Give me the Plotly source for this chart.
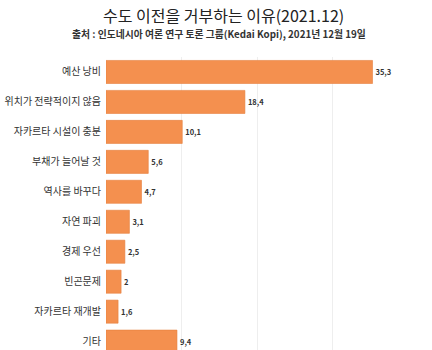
import plotly.graph_objects as go

categories = ["예산 낭비", "위치가 전략적이지 않음", "자카르타 시설이 충분", "부채가 늘어날 것",
              "역사를 바꾸다", "자연 파괴", "경제 우선", "빈곤문제", "자카르타 재개발", "기타"]
values = [35.3, 18.4, 10.1, 5.6, 4.7, 3.1, 2.5, 2, 1.6, 9.4]
value_labels = ["35,3", "18,4", "10,1", "5,6", "4,7", "3,1", "2,5", "2", "1,6", "9,4"]

title_text = "수도 이전을 거부하는 이유(2021.12)"
subtitle_text = "출처 : 인도네시아 여론 연구 토론 그룹(Kedai Kopi), 2021년 12월 19일"

font_kr = "Noto Sans CJK KR, Noto Sans, sans-serif"

L, R, T = 106, 24, 57
PW = 432 - L - R

fig = go.Figure(go.Bar(
    x=values, y=categories, orientation="h",
    marker=dict(color="#F4904F", line=dict(color="#E57F3E", width=0.6)),
    text=["<b>" + s + "</b>" for s in value_labels], textposition="outside", cliponaxis=False,
    textfont=dict(family=font_kr, size=7.5, color="#333333"),
    width=0.77,
))

fig.update_layout(
    width=432, height=350,
    margin=dict(l=L, r=R, t=T, b=0),
    paper_bgcolor="white", plot_bgcolor="white",
    showlegend=False,
    annotations=[
        dict(text=title_text, xref="paper", yref="paper", x=(223 - L) / PW, y=1,
             yshift=T - 15, xanchor="center", yanchor="middle", showarrow=False,
             font=dict(family=font_kr, size=16, color="#222222")),
        dict(text="<b>" + subtitle_text + "</b>", xref="paper", yref="paper", x=(219 - L) / PW, y=1,
             yshift=T - 34, xanchor="center", yanchor="middle", showarrow=False,
             font=dict(family=font_kr, size=9.8, color="#333333")),
    ],
    xaxis=dict(range=[0, 40], dtick=10, showgrid=True, gridcolor="#EEEEEE", gridwidth=1,
               showticklabels=False, zeroline=False, showline=False, ticks=""),
    yaxis=dict(categoryorder="array", categoryarray=categories,
               range=[9.28, -0.5], autorange=False,
               showgrid=False, zeroline=False, showline=False, ticks="",
               ticklabelstandoff=4,
               tickfont=dict(family=font_kr, size=10, color="#333333")),
)

fig.write_html("out.html")
